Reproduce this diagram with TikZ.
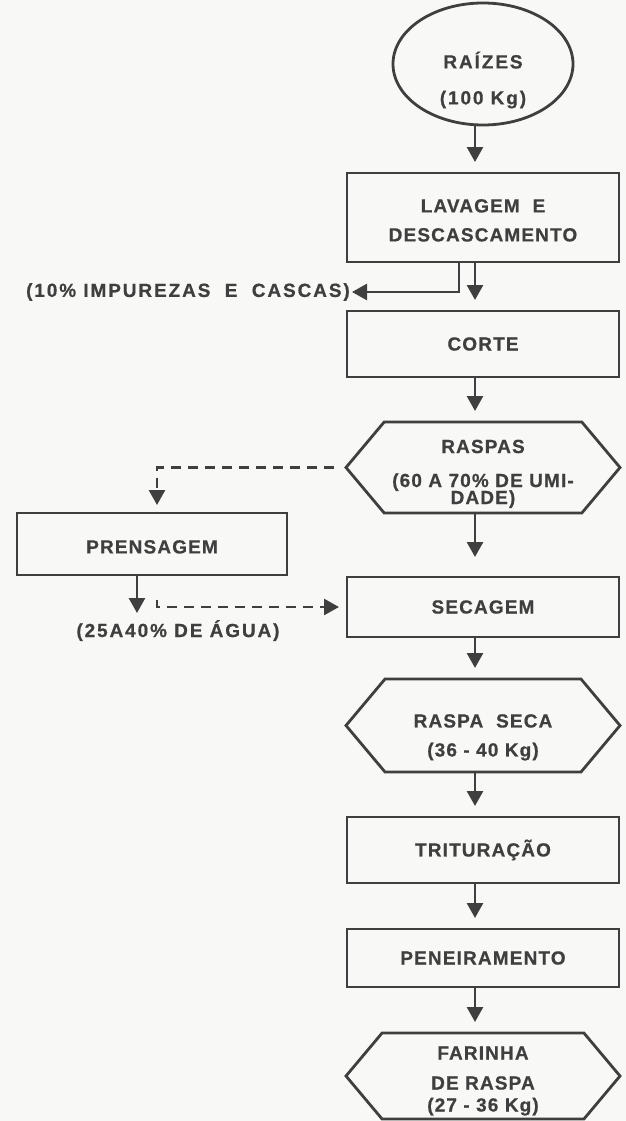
\documentclass[tikz,border=0pt]{standalone}
\usepackage{fontspec}
\usepackage{tikz}
\usetikzlibrary{arrows.meta,positioning,shapes.geometric,shapes.symbols}
\newfontfamily\flowfont{Liberation Sans}[LetterSpace=6, BoldFeatures={FakeBold=0.6}]
\newfontfamily\notefont{Liberation Sans}[LetterSpace=10, BoldFeatures={FakeBold=0.6}]
\definecolor{ink}{HTML}{3F3F3F}
\definecolor{paper}{HTML}{F8F8F6}

\begin{document}
\begin{tikzpicture}[
  node distance=46pt,
  flow/.style={-{Triangle[length=15pt,width=16pt]}, line width=2.6pt, draw=ink, shorten >=11pt},
  dashflow/.style={flow, dash pattern=on 10pt off 7pt},
  card/.style={draw=ink, line width=2.8pt, align=center, text=ink, inner sep=4pt, outer sep=0pt,
    font=\flowfont\bfseries\fontsize{19}{29}\selectfont},
  stepbox/.style={card, rectangle, minimum width=272pt, minimum height=62pt},
  hexbox/.style={card, signal, signal to=west and east, signal pointer angle=100, minimum width=274pt},
  rootshape/.style={card, ellipse, minimum width=180pt, minimum height=122pt},
  caption/.style={text=ink, align=center, inner sep=0pt, font=\flowfont\bfseries\fontsize{19}{29}\selectfont},
  note/.style={text=ink, align=center, inner sep=1pt, font=\notefont\bfseries\fontsize{19}{29}\selectfont}
]
\path[use as bounding box, fill=paper] (0,0) rectangle (626pt,-1121pt);

% main line
\node[rootshape] (raizes) at (483pt,-64pt) {};
\node[note] (raizestext) at ([yshift=-16pt]raizes.center) {RAÍZES\\[7pt](100 Kg)};
\node[stepbox, minimum height=89pt, below=48pt of raizes] (lav) {\rule{0pt}{19pt}LAVAGEM~~E\\DESCASCAMENTO};
\node[stepbox, minimum height=66pt, below=49pt of lav] (corte) {CORTE};
\node[hexbox, minimum height=91pt, below=45pt of corte] (raspas) {\rule{0pt}{26pt}RASPAS\\[5pt](60 A 70\% DE UMI-\\[-12pt]DADE)};
\node[stepbox, minimum height=60pt, below=64pt of raspas] (secagem) {SECAGEM};
\node[hexbox, minimum height=93pt, below=42pt of secagem] (raspaseca) {\rule{0pt}{37pt}RASPA~~SECA\\(36 - 40 Kg)};
\node[stepbox, minimum height=66pt, below=45pt of raspaseca] (trit) {TRITURAÇÃO};
\node[stepbox, minimum height=58pt, below=46pt of trit] (pen) {PENEIRAMENTO};
\node[hexbox, minimum height=86pt, below=46pt of pen] (farinha) {};
\node[caption] (farinhatext) at ([yshift=-5pt]farinha.center) {FARINHA\\[1pt]DE RASPA\\[-7pt](27 - 36 Kg)};

% side branches
\node[note, anchor=east] (impurezas) at ([xshift=4pt,yshift=-30pt]lav.south west) {(10\%~IMPUREZAS~~E~~CASCAS)};
\node[stepbox, minimum width=270pt, left=60pt of secagem, yshift=63pt] (prensagem) {\rule{0pt}{19pt}PRENSAGEM};
\node[note, below=44pt of prensagem, xshift=26pt] (agua) {(25A40\% DE ÁGUA)};
\coordinate (drain) at ([xshift=5pt,yshift=-25pt]prensagem.south);

\draw[flow] ([xshift=-8pt]raizes.south) -- ([xshift=-8pt]lav.north);
\draw[flow, shorten >=1pt] ([xshift=-24pt]lav.south) |- (impurezas.east);
\draw[flow] ([xshift=-8pt]lav.south) -- ([xshift=-8pt]corte.north);
\draw[flow] ([xshift=-8pt]corte.south) -- ([xshift=-8pt]raspas.north);
\draw[flow, shorten >=20pt] ([xshift=-8pt]raspas.south) -- ([xshift=-8pt]secagem.north);
\draw[flow] ([xshift=-8pt]secagem.south) -- ([xshift=-8pt]raspaseca.north);
\draw[flow] ([xshift=-8pt]raspaseca.south) -- ([xshift=-8pt]trit.north);
\draw[flow] ([xshift=-8pt]trit.south) -- ([xshift=-8pt]pen.north);
\draw[flow] ([xshift=-8pt]pen.south) -- ([xshift=-8pt]farinha.north);
\draw[dashflow, shorten <=12pt, shorten >=8pt] (raspas.west) -| ([xshift=5pt]prensagem.north);
\draw[flow, shorten >=6pt] ([xshift=-15pt]prensagem.south) -- ([xshift=-15pt]prensagem.south |- agua.north);
\draw[dashflow, shorten >=8pt] (drain) |- (secagem.west);
\end{tikzpicture}
\end{document}
